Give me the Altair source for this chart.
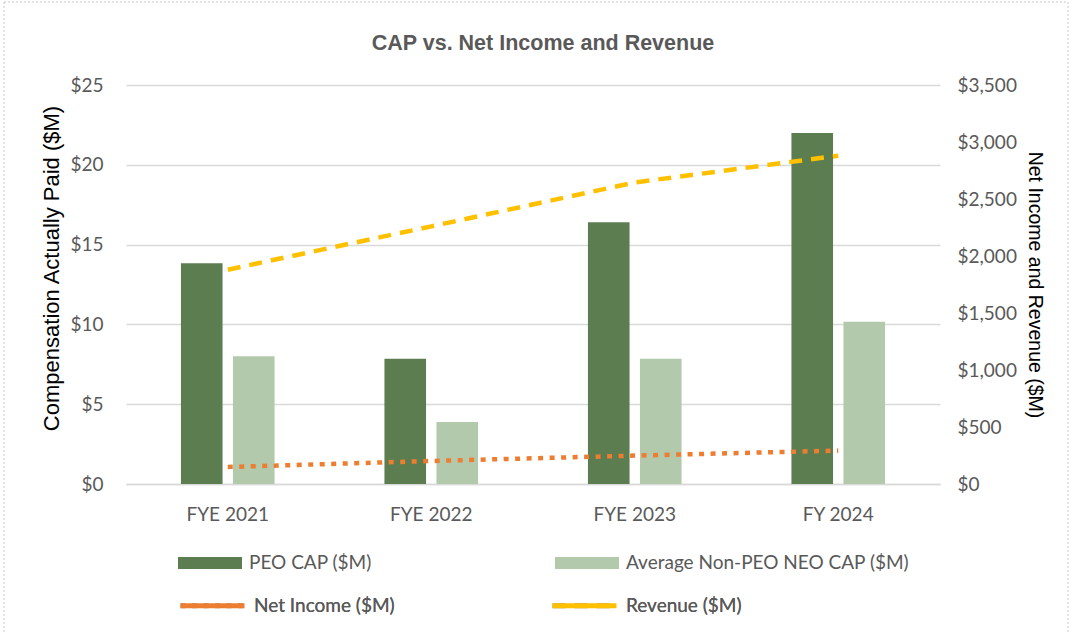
import altair as alt
import pandas as pd

years = ["FYE 2021", "FYE 2022", "FYE 2023", "FY 2024"]
bar_series = ["PEO CAP ($M)", "Average Non-PEO NEO CAP ($M)"]
peo_cap = [13.83, 7.85, 16.4, 22.0]
neo_cap = [8.01, 3.89, 7.85, 10.17]
line_series = ["Net Income ($M)", "Revenue ($M)"]
net_income = [149, 202, 249, 293]
revenue = [1880, 2260, 2645, 2880]
left_ticks = [0, 5, 10, 15, 20, 25]
right_ticks = [0, 500, 1000, 1500, 2000, 2500, 3000, 3500]

bars_df = pd.DataFrame(
    [{"year": y, "series": bar_series[0], "value": v} for y, v in zip(years, peo_cap)]
    + [{"year": y, "series": bar_series[1], "value": v} for y, v in zip(years, neo_cap)]
)
lines_df = pd.DataFrame(
    [{"year": y, "series": line_series[0], "value": v} for y, v in zip(years, net_income)]
    + [{"year": y, "series": line_series[1], "value": v} for y, v in zip(years, revenue)]
)

W, H = 814, 399
GRAY = "#595959"
LFONT = "Lato"

x_enc = alt.X(
    "year:N", sort=years, title=None,
    scale=alt.Scale(paddingInner=0.54, paddingOuter=0.27),
    axis=alt.Axis(labelAngle=0, labelPadding=21, domain=True, domainColor="#d9d9d9",
                  domainWidth=1.5, grid=False, ticks=False),
)

bars = alt.Chart(bars_df).mark_bar().encode(
    x=x_enc,
    xOffset=alt.XOffset("series:N", sort=bar_series, scale=alt.Scale(paddingInner=0.2)),
    y=alt.Y("value:Q", scale=alt.Scale(domain=[0, 25], nice=False),
            axis=alt.Axis(values=left_ticks, format="$,.0f", title="Compensation Actually Paid ($M)",
                          labelPadding=23, titlePadding=6, grid=True, titleFontSize=22,
                          titleY=183)),
    fill=alt.Fill("series:N", scale=alt.Scale(domain=bar_series, range=["#5b7d4f", "#b3c9ab"]),
                  legend=alt.Legend(orient="none", legendX=52, legendY=446, direction="horizontal",
                                    columns=2, columnPadding=183, title=None,
                                    symbolType="M-1,-0.19L1,-0.19L1,0.19L-1,0.19Z",
                                    symbolSize=4096, symbolStrokeWidth=0, labelOffset=7,
                                    labelLimit=400)),
)

line_legend = alt.Legend(orient="none", legendX=52, legendY=486, direction="horizontal",
                         columns=2, columnPadding=147, title=None, symbolType="stroke",
                         symbolSize=4096, symbolStrokeWidth=5, labelOffset=7, labelLimit=400)

lines = alt.Chart(lines_df).mark_line(strokeWidth=4.5, strokeCap="butt").encode(
    x=alt.X("year:N", sort=years),
    y=alt.Y("value:Q", scale=alt.Scale(domain=[0, 3500], nice=False),
            axis=alt.Axis(orient="right", values=right_ticks, format="$,.0f",
                          title="Net Income and Revenue ($M)", labelPadding=17,
                          titlePadding=8, grid=False)),
    stroke=alt.Stroke("series:N", scale=alt.Scale(domain=line_series, range=["#ed7d31", "#ffc000"]),
                      legend=line_legend),
    strokeDash=alt.StrokeDash("series:N", scale=alt.Scale(domain=line_series, range=[[5, 6.5], [13, 9]]),
                              legend=line_legend),
)

border = alt.Chart(pd.DataFrame({"a": [0]})).mark_rect(
    fill=None, stroke="#c8c8c8", strokeWidth=1, strokeDash=[2, 2]
).encode(x=alt.value(-122), x2=alt.value(942), y=alt.value(-83), y2=alt.value(560))

chart = alt.layer(border, bars, lines).resolve_scale(
    y="independent", fill="independent", stroke="independent"
).properties(
    width=W, height=H,
    title=alt.Title("CAP vs. Net Income and Revenue", font="Liberation Sans", fontSize=21.5,
                    fontWeight="bold", color=GRAY, offset=-53, dx=10, frame="group"),
    autosize=alt.AutoSizeParams(type="none"),
    padding={"left": 126, "top": 85, "right": 132, "bottom": 148},
).configure_view(stroke=None).configure_axis(
    labelFont=LFONT, labelFontSize=19, labelColor=GRAY, titleFont="Liberation Sans",
    titleFontSize=19.5, titleColor="#000000", titleFontWeight="normal", domain=False, ticks=False,
    gridColor="#d9d9d9", gridWidth=1.5,
).configure_legend(labelFont=LFONT, labelFontSize=19, labelColor=GRAY)

chart.save("out.html", embed_options={"renderer": "svg", "actions": False})
